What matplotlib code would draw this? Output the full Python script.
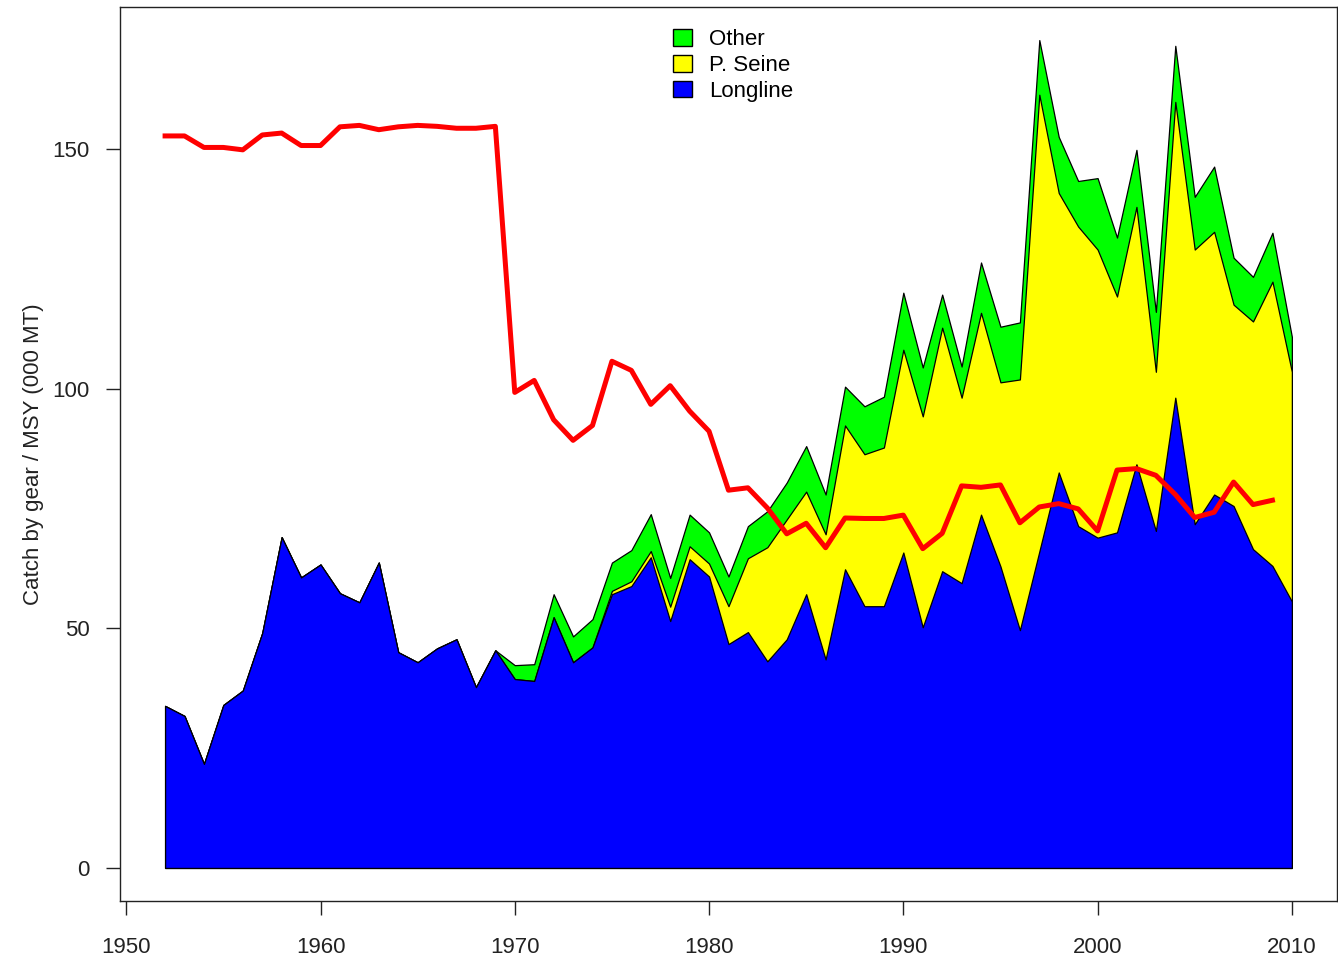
import numpy as np
import matplotlib.pyplot as plt
from matplotlib.patches import Patch

plt.rcParams['font.family'] = ['Liberation Sans', 'DejaVu Sans']

years = np.arange(1952, 2011)

longline = [33.8, 31.7, 21.7, 34.0, 37.0, 49.0, 69.0, 60.6, 63.3, 57.3,
            55.4, 63.7, 45.0, 42.9, 45.8, 47.7, 37.7, 45.4, 39.4, 39.0,
            52.3, 42.9, 46.0, 57.1, 58.8, 64.8, 51.5, 64.4, 60.8, 46.7,
            49.2, 43.1, 47.7, 57.1, 43.5, 62.3, 54.6, 54.6, 65.8, 50.2,
            61.9, 59.4, 73.7, 62.9, 49.6, 66.0, 82.5, 71.3, 68.9, 70.0,
            84.2, 70.3, 98.1, 71.7, 77.9, 75.5, 66.5, 63.0, 55.6]

pseine = [0, 0, 0, 0, 0, 0, 0, 0, 0, 0,
          0, 0, 0, 0, 0, 0, 0, 0, 0, 0,
          0, 0, 0, 0.7, 1.0, 1.3, 3.0, 2.7, 2.7, 7.9,
          15.4, 23.8, 25.0, 21.4, 26.1, 30.0, 31.7, 33.1, 42.3, 44.0,
          50.8, 38.7, 42.1, 38.4, 52.3, 95.3, 58.3, 62.5, 60.1, 49.2,
          53.7, 33.2, 61.7, 57.3, 54.8, 42.0, 47.5, 59.3, 47.9]

other = [0, 0, 0, 0, 0, 0, 0, 0, 0, 0,
         0, 0, 0, 0, 0, 0, 0, 0, 2.9, 3.5,
         4.8, 5.4, 5.9, 5.9, 6.5, 7.7, 6.0, 6.6, 6.5, 6.2,
         6.7, 7.5, 7.7, 9.5, 8.3, 8.1, 10.0, 10.6, 11.9, 10.2,
         6.9, 6.5, 10.5, 11.6, 11.9, 11.4, 11.7, 9.5, 14.9, 12.3,
         11.9, 12.5, 11.7, 11.0, 13.6, 9.8, 9.3, 10.2, 7.3]

msy_years = np.arange(1952, 2010)
msy = [152.7, 152.7, 150.3, 150.3, 149.8, 152.9, 153.3, 150.7, 150.7, 154.6,
       154.9, 154.0, 154.6, 154.9, 154.7, 154.3, 154.3, 154.7, 99.2, 101.7,
       93.5, 89.2, 92.3, 105.7, 103.8, 96.7, 100.6, 95.3, 91.1, 78.8,
       79.3, 75.1, 69.7, 71.9, 66.8, 73.0, 72.9, 72.9, 73.6, 66.6,
       69.8, 79.7, 79.4, 79.9, 72.0, 75.3, 76.0, 74.9, 70.3, 83.0,
       83.3, 81.9, 77.9, 73.1, 74.2, 80.5, 75.8, 76.7]

ll = np.array(longline)
ps = ll + np.array(pseine)
tot = ps + np.array(other)

fig = plt.figure(figsize=(13.38, 9.57), dpi=100)
ax = fig.add_axes([0.0897, 0.0585, 0.9095, 0.9342])

ax.fill_between(years, 0, tot, facecolor='#00ff00', edgecolor='black', linewidth=0.9)
ax.fill_between(years, 0, ps, facecolor='#ffff00', edgecolor='black', linewidth=0.9)
ax.fill_between(years, 0, ll, facecolor='#0000ff', edgecolor='black', linewidth=0.9)
ax.plot(msy_years, msy, color='#ff0000', linewidth=3.6, solid_joinstyle='round')

ax.set_xlim(1949.68, 2012.32)
ax.set_ylim(-6.9, 179.6)
ax.set_xticks([1950, 1960, 1970, 1980, 1990, 2000, 2010])
ax.set_yticks([0, 50, 100, 150])
ax.tick_params(axis='both', direction='out', length=10, width=1, labelsize=16, colors='#222222')
ax.tick_params(axis='x', pad=16)
ax.tick_params(axis='y', pad=12)
for s in ax.spines.values():
    s.set_color('#222222')
    s.set_linewidth(1)

ax.set_ylabel('Catch by gear / MSY (000 MT)', fontsize=16, color='#222222', labelpad=6)

handles = [Patch(facecolor='#00ff00', edgecolor='black', label='Other'),
           Patch(facecolor='#ffff00', edgecolor='black', label='P. Seine'),
           Patch(facecolor='#0000ff', edgecolor='black', label='Longline')]
ax.legend(handles=handles, loc='upper left', bbox_to_anchor=(0.44, 0.995), frameon=False,
          fontsize=16, handlelength=0.85, handleheight=0.75, labelspacing=0.22,
          handletextpad=0.75, borderaxespad=0.4)

fig.savefig('out.png', dpi=100)
